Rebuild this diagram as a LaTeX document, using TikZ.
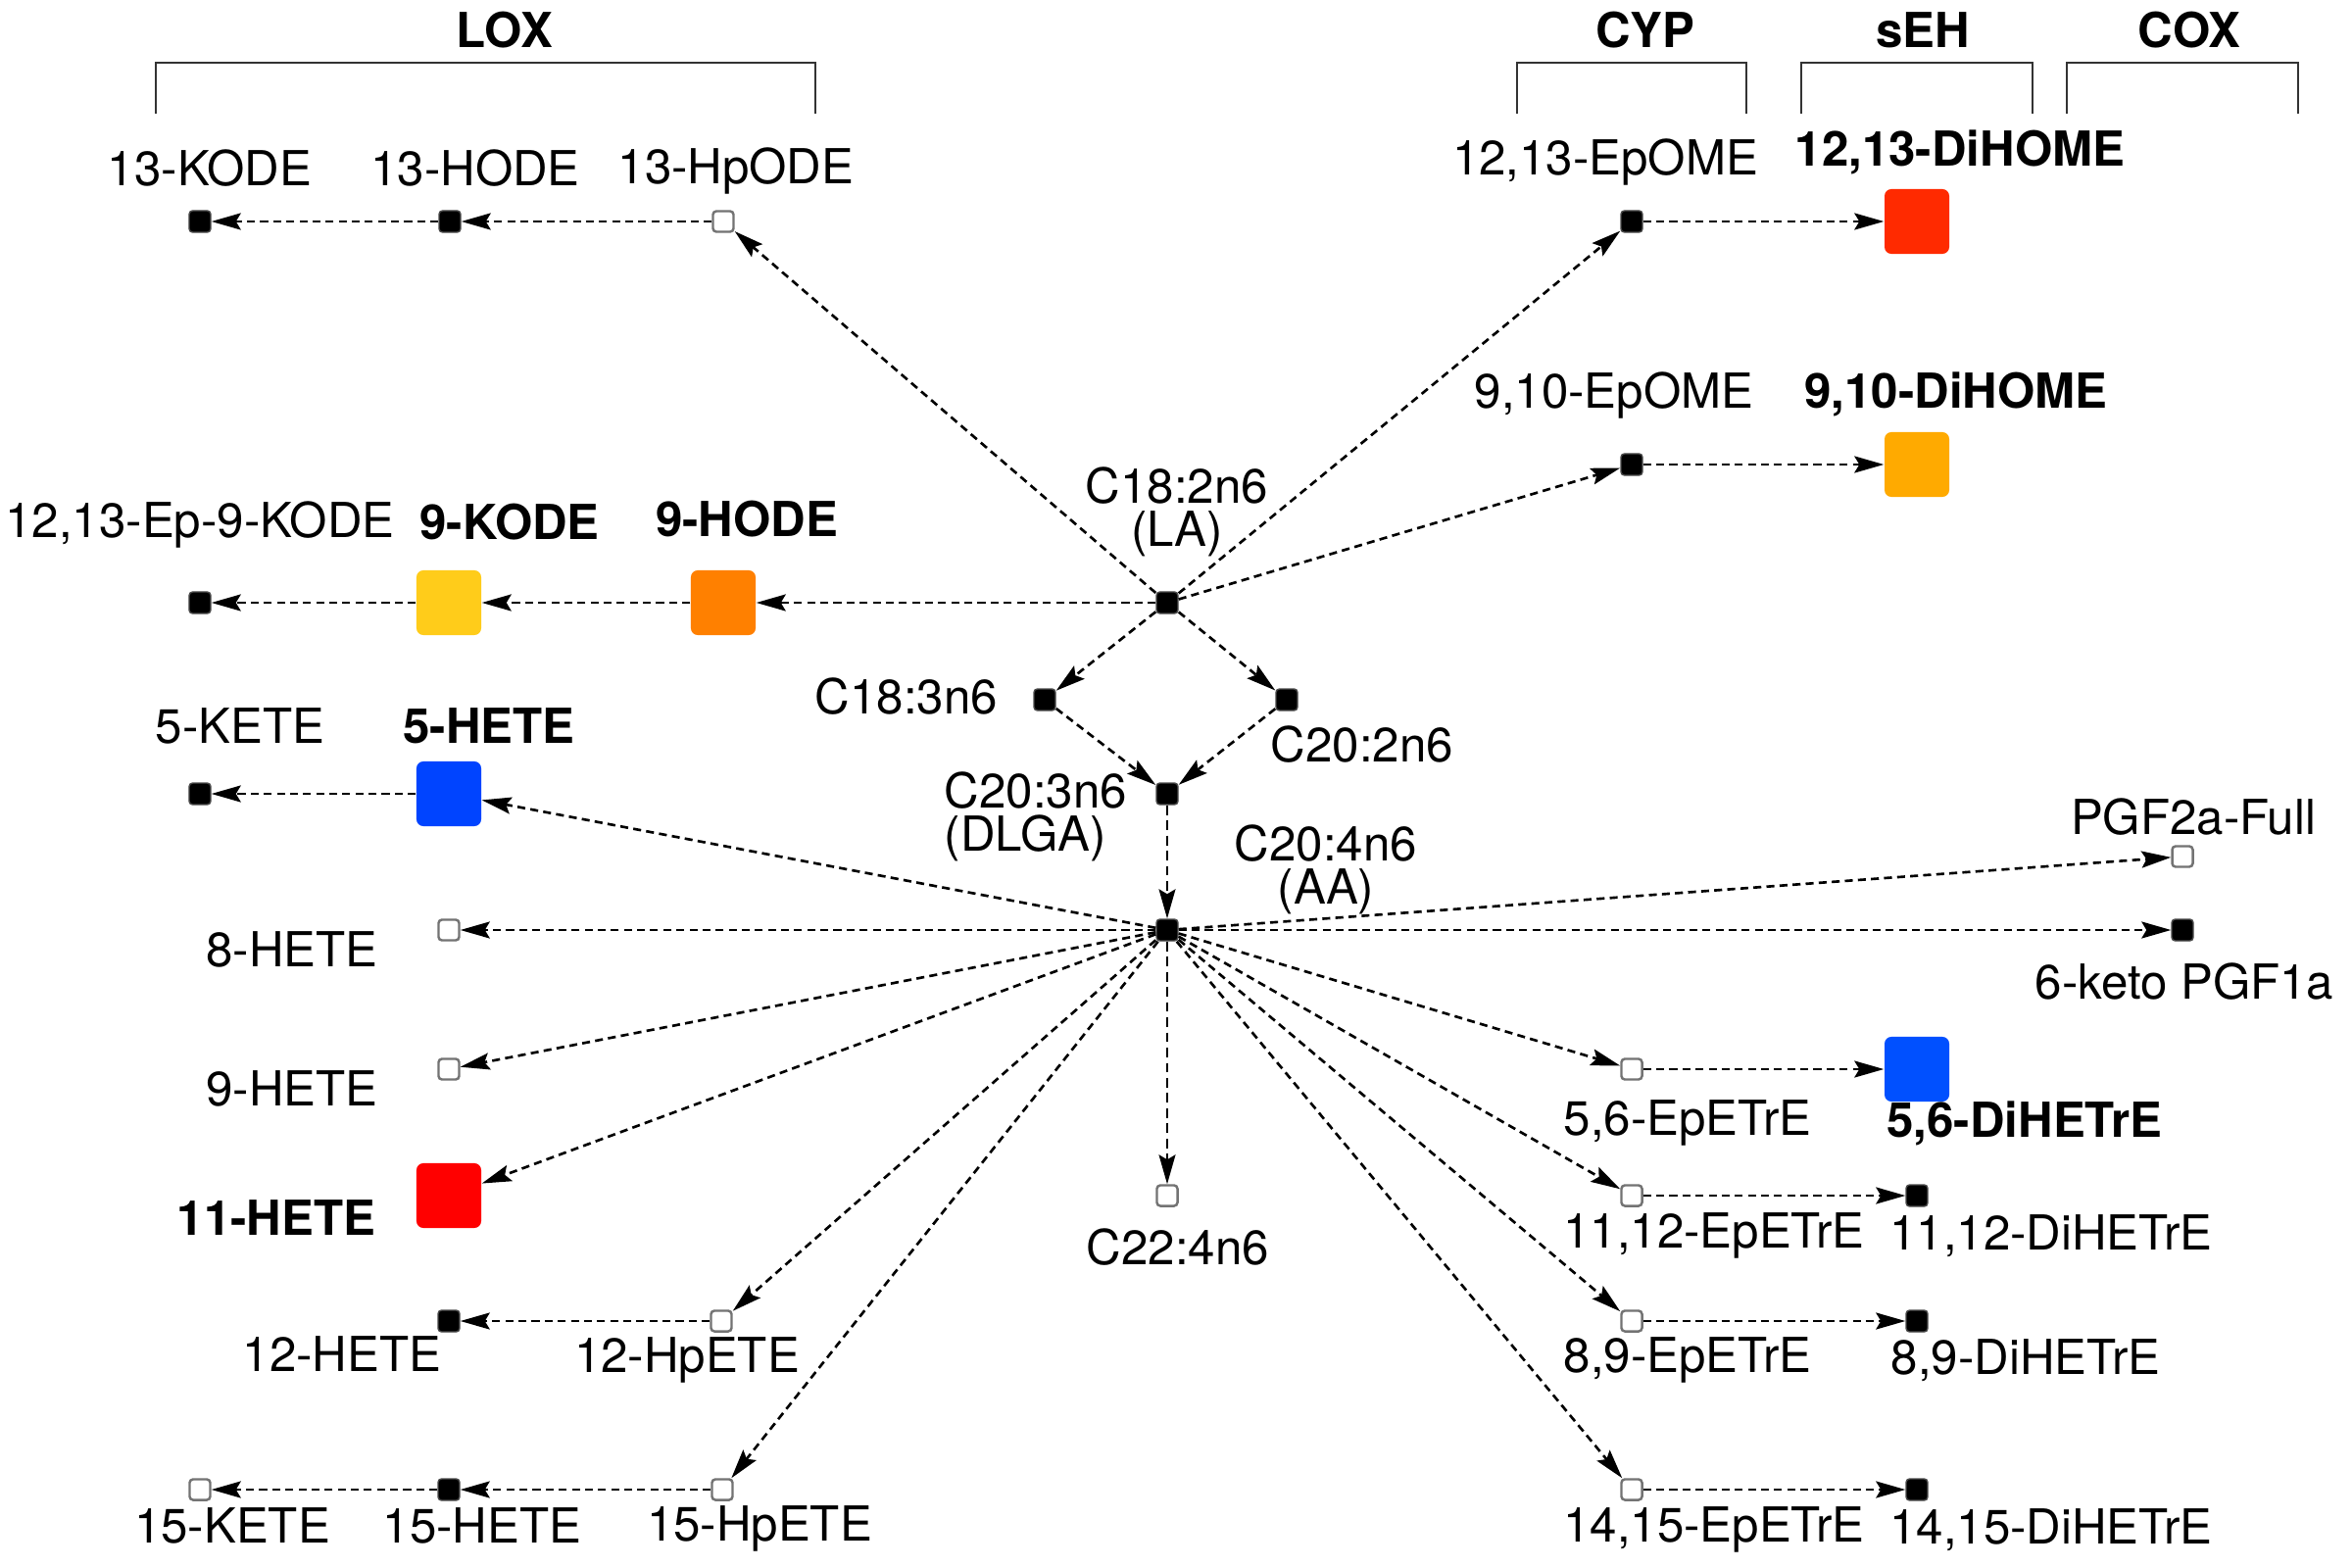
\documentclass[tikz,border=0pt]{standalone}
\usepackage{fontspec}
\setmainfont{TeX Gyre Heros}
\usetikzlibrary{arrows.meta}
\definecolor{cDiHOMEa}{RGB}{255,42,0}
\definecolor{cDiHOMEb}{RGB}{255,170,0}
\definecolor{cKODE}{RGB}{255,204,26}
\definecolor{cHODE}{RGB}{255,128,0}
\definecolor{cHETEfive}{RGB}{0,68,255}
\definecolor{cHETEeleven}{RGB}{255,0,0}
\definecolor{cDiHETrE}{RGB}{0,80,255}
\begin{document}
\begin{tikzpicture}[x=0.01cm,y=-0.01cm,
 sm/.style={draw=black!70, fill=black, line width=0.4pt, rounded corners=0.035cm, minimum size=0.22cm, inner sep=0pt},
 sw/.style={draw=black!55, fill=white, line width=0.7pt, rounded corners=0.035cm, minimum size=0.21cm, inner sep=0pt},
 big/.style={fill=#1, rounded corners=0.07cm, minimum size=0.66cm, inner sep=0pt},
 lab/.style={font=\fontsize{14}{12.5}\selectfont, inner sep=0pt},
 blab/.style={font=\fontsize{14}{12.5}\selectfont\bfseries, inner sep=0pt},
 ed/.style={dash pattern=on 2.3pt off 1.5pt, line width=0.75pt, -{Stealth[length=0.3cm,width=0.17cm,inset=0.05cm]}},
 edt/.style={ed, line width=0.5pt, dash pattern=on 2.8pt off 1.6pt},
 brk/.style={line width=0.6pt, draw=black!80}]
\useasboundingbox[fill=white] (0,0) rectangle (2400,1600);

% brackets and enzyme labels
\draw[brk] (159,116) -- (159,64) -- (832,64) -- (832,116);
\draw[brk] (1548,116) -- (1548,64) -- (1782,64) -- (1782,116);
\draw[brk] (1838,116) -- (1838,64) -- (2074,64) -- (2074,116);
\draw[brk] (2109,116) -- (2109,64) -- (2345,64) -- (2345,116);
\node[blab] (tLOX) at (515,31) {LOX};
\node[blab] (tCYP) at (1679,31) {CYP};
\node[blab] (tSEH) at (1962,31) {sEH};
\node[blab] (tCOX) at (2234,31) {COX};

% nodes
\node[sm] (kode13) at (204,226) {};
\node[sm] (hode13) at (459,226) {};
\node[sw] (hpode13) at (738,226) {};
\node[sm] (epome1213) at (1665,226) {};
\node[big=cDiHOMEa] (dihome1213) at (1956,226) {};
\node[sm] (epome910) at (1665,474) {};
\node[big=cDiHOMEb] (dihome910) at (1956,474) {};
\node[sm] (epkode) at (204,615) {};
\node[big=cKODE] (kode9) at (458,615) {};
\node[big=cHODE] (hode9) at (738,615) {};
\node[sm] (la) at (1191,615) {};
\node[sm] (c183) at (1066,714) {};
\node[sm] (c202) at (1313,714) {};
\node[sm] (c203) at (1191,810) {};
\node[sm] (aa) at (1191,949) {};
\node[sm] (kete5) at (204,810) {};
\node[big=cHETEfive] (hete5) at (458,810) {};
\node[sw] (hete8) at (458,949) {};
\node[sw] (hete9) at (458,1091) {};
\node[big=cHETEeleven] (hete11) at (458,1220) {};
\node[sm] (hete12) at (458,1348) {};
\node[sw] (hpete12) at (736,1348) {};
\node[sw] (kete15) at (204,1520) {};
\node[sm] (hete15) at (458,1520) {};
\node[sw] (hpete15) at (737,1520) {};
\node[sw] (c224) at (1191,1220) {};
\node[sw] (pgf2a) at (2227,874) {};
\node[sm] (pgf1a) at (2227,949) {};
\node[sw] (ep56) at (1665,1091) {};
\node[big=cDiHETrE] (di56) at (1956,1091) {};
\node[sw] (ep1112) at (1665,1220) {};
\node[sm] (di1112) at (1956,1220) {};
\node[sw] (ep89) at (1665,1348) {};
\node[sm] (di89) at (1956,1348) {};
\node[sw] (ep1415) at (1665,1520) {};
\node[sm] (di1415) at (1956,1520) {};

% labels
\node[lab] (lkode13) at (214,172) {13-KODE};
\node[lab] (lhode13) at (485,172) {13-HODE};
\node[lab] (lhpode13) at (751,174) {13-HpODE};
\node[lab] (lepome1213) at (1638,165) {12,13-EpOME};
\node[blab] (ldihome1213) at (2000,155) {12,13-DiHOME};
\node[lab] (lepome910) at (1647,403) {9,10-EpOME};
\node[blab] (ldihome910) at (1996,402) {9,10-DiHOME};
\node[lab] (lepkode) at (204,535) {12,13-Ep-9-KODE};
\node[blab] (lkode9) at (520,533) {9-KODE};
\node[blab] (lhode9) at (762,530) {9-HODE};
\node[lab, align=center] (lla) at (1201,522) {C18:2n6\\(LA)};
\node[lab] (lc183) at (925,711) {C18:3n6};
\node[lab] (lc202) at (1390,760) {C20:2n6};
\node[lab, align=left] (lc203) at (1057,833) {C20:3n6\\(DLGA)};
\node[lab, align=center] (laa) at (1353,887) {C20:4n6\\(AA)};
\node[lab] (lkete5) at (245,741) {5-KETE};
\node[blab] (lhete5) at (499,741) {5-HETE};
\node[lab] (lhete8) at (298,969) {8-HETE};
\node[lab] (lhete9) at (298,1111) {9-HETE};
\node[blab] (lhete11) at (282,1243) {11-HETE};
\node[lab] (lhete12) at (349,1382) {12-HETE};
\node[lab] (lhpete12) at (701,1388) {12-HpETE};
\node[lab] (lkete15) at (237,1557) {15-KETE};
\node[lab] (lhete15) at (492,1557) {15-HETE};
\node[lab] (lhpete15) at (775,1560) {15-HpETE};
\node[lab] (lc224) at (1202,1273) {C22:4n6};
\node[lab] (lpgf2a) at (2238,834) {PGF2a-Full};
\node[lab] (lpgf1a) at (2229,1002) {6-keto PGF1a};
\node[lab] (lep56) at (1722,1146) {5,6-EpETrE};
\node[blab] (ldi56) at (2066,1146) {5,6-DiHETrE};
\node[lab] (lep1112) at (1749,1261) {11,12-EpETrE};
\node[lab] (ldi1112) at (2093,1261) {11,12-DiHETrE};
\node[lab] (lep89) at (1722,1388) {8,9-EpETrE};
\node[lab] (ldi89) at (2067,1388) {8,9-DiHETrE};
\node[lab] (lep1415) at (1749,1561) {14,15-EpETrE};
\node[lab] (ldi1415) at (2093,1561) {14,15-DiHETrE};

% connectors
\draw[ed] (hpode13) -- (hode13);
\draw[ed] (hode13) -- (kode13);
\draw[ed] (la) -- (hpode13);
\draw[ed] (la) -- (epome1213);
\draw[ed] (epome1213) -- (dihome1213);
\draw[ed] (la) -- (epome910);
\draw[ed] (epome910) -- (dihome910);
\draw[ed] (la) -- (hode9);
\draw[ed] (hode9) -- (kode9);
\draw[ed] (kode9) -- (epkode);
\draw[ed] (la) -- (c183);
\draw[ed] (la) -- (c202);
\draw[ed] (c183) -- (c203);
\draw[ed] (c202) -- (c203);
\draw[edt] (c203) -- (aa);
\draw[ed] (aa) -- (hete5);
\draw[ed] (hete5) -- (kete5);
\draw[ed] (aa) -- (hete8);
\draw[ed] (aa) -- (hete9);
\draw[ed] (aa) -- (hete11);
\draw[ed] (aa) -- (hpete12);
\draw[ed] (hpete12) -- (hete12);
\draw[ed] (aa) -- (hpete15);
\draw[ed] (hpete15) -- (hete15);
\draw[ed] (hete15) -- (kete15);
\draw[edt] (aa) -- (c224);
\draw[ed] (aa) -- (pgf2a);
\draw[ed] (aa) -- (pgf1a);
\draw[ed] (aa) -- (ep56);
\draw[ed] (ep56) -- (di56);
\draw[ed] (aa) -- (ep1112);
\draw[ed] (ep1112) -- (di1112);
\draw[ed] (aa) -- (ep89);
\draw[ed] (ep89) -- (di89);
\draw[ed] (aa) -- (ep1415);
\draw[ed] (ep1415) -- (di1415);
\end{tikzpicture}
\end{document}
